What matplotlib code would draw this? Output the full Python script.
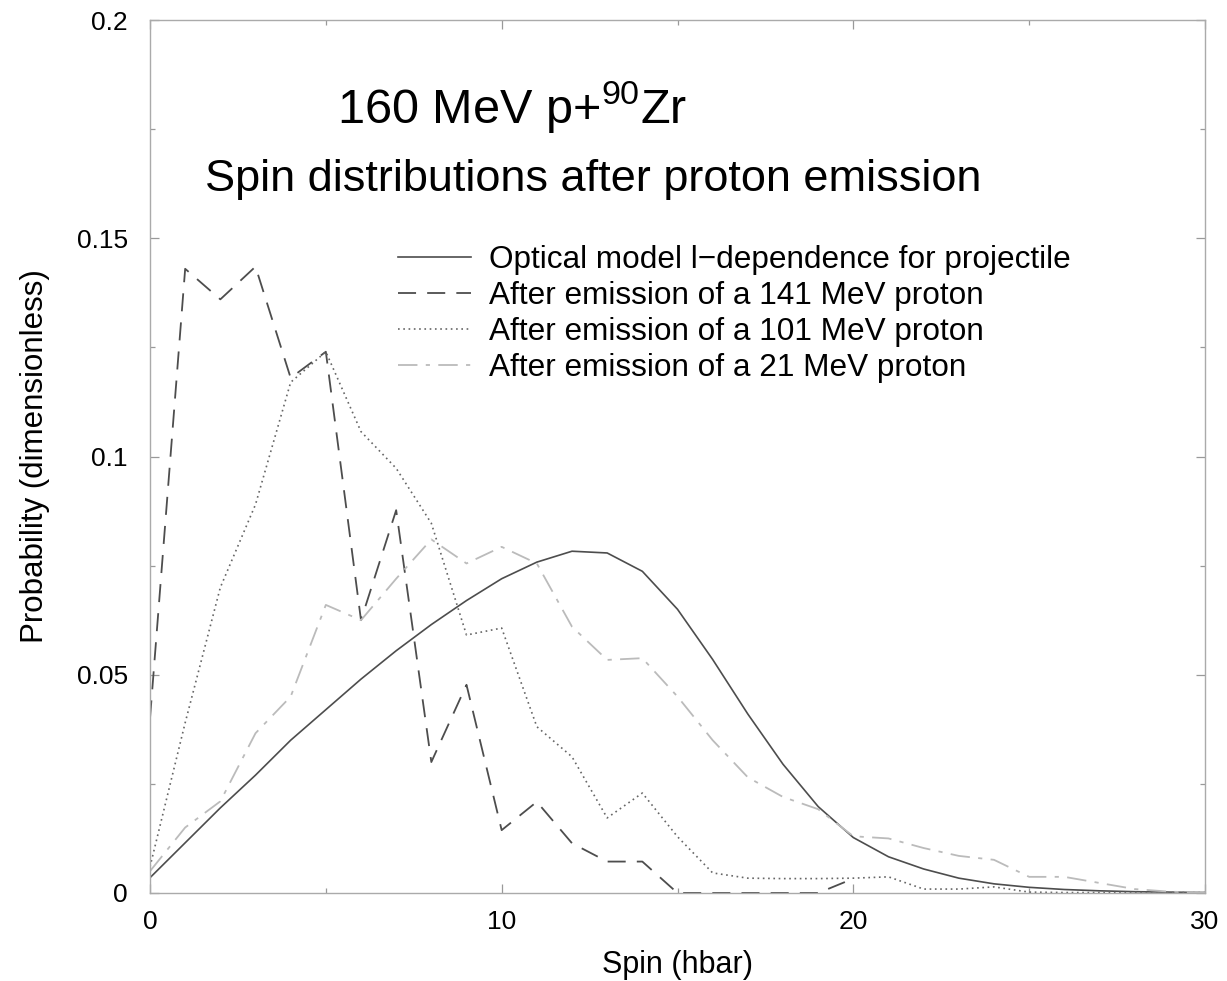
import matplotlib
matplotlib.use("Agg")
import matplotlib.pyplot as plt
import numpy as np

plt.rcParams['font.family'] = ['Liberation Sans', 'DejaVu Sans']
plt.rcParams['mathtext.fontset'] = 'custom'
plt.rcParams['mathtext.rm'] = 'Liberation Sans'
plt.rcParams['mathtext.it'] = 'Liberation Sans'
plt.rcParams['lines.scale_dashes'] = False

spin = list(range(0, 31))

optical = [0.0035, 0.0115, 0.0195, 0.027, 0.035, 0.042, 0.049, 0.0555, 0.0615, 0.067,
           0.072, 0.0758, 0.0783, 0.0779, 0.0737, 0.065, 0.0535, 0.041, 0.0295, 0.0198,
           0.0127, 0.0083, 0.0055, 0.0034, 0.0021, 0.0013, 0.0008, 0.0005, 0.0003, 0.0002,
           0.0001]

spin_141 = list(range(0, 21))
p141 = [0.040, 0.143, 0.136, 0.1435, 0.118, 0.124, 0.0625, 0.0877, 0.030, 0.0477,
        0.0144, 0.0209, 0.0114, 0.0072, 0.0072, 0.0, 0.0, 0.0, 0.0, 0.0,
        0.0033]

p101 = [0.006, 0.039, 0.070, 0.089, 0.117, 0.124, 0.1057, 0.0973, 0.0847, 0.0591,
        0.0607, 0.0381, 0.0312, 0.0172, 0.0229, 0.0129, 0.0046, 0.0034, 0.0033, 0.0033,
        0.0034, 0.0037, 0.0009, 0.0009, 0.0014, 0.0002, 0.0001, 0.0001, 0.0001, 0.0001,
        0.0001]

p21 = [0.005, 0.015, 0.021, 0.0366, 0.045, 0.066, 0.0625, 0.072, 0.081, 0.0755,
       0.0793, 0.0755, 0.061, 0.0534, 0.0538, 0.045, 0.035, 0.0265, 0.022, 0.0192,
       0.013, 0.0125, 0.0103, 0.0085, 0.0076, 0.0037, 0.0037, 0.0023, 0.0009, 0.0003,
       0.0001]

labels = ["Optical model l\u2212dependence for projectile",
          "After emission of a 141 MeV proton",
          "After emission of a 101 MeV proton",
          "After emission of a 21 MeV proton"]

W, H = 1227, 981
fig = plt.figure(figsize=(W / 100, H / 100), dpi=100)
ax = fig.add_axes([150 / W, 1 - 893 / H, (1205 - 150) / W, (893 - 20) / H])

ax.plot(spin, optical, color='#4d4d4d', lw=1.2, ls='-', label=labels[0])
ax.plot(spin_141, p141, color='#4d4d4d', lw=1.3, ls=(0, (13, 8)), label=labels[1])
ax.plot(spin, p101, color='#666666', lw=1.2, ls=(0, (1.2, 2.6)), label=labels[2])
ax.plot(spin, p21, color='#bbbbbb', lw=1.3, ls=(0, (14, 6, 3, 6)), label=labels[3])

ax.set_xlim(0, 30)
ax.set_ylim(0, 0.2)
ax.set_xticks([0, 10, 20, 30])
ax.set_xticks([5, 15, 25], minor=True)
ax.set_yticks([0, 0.05, 0.1, 0.15, 0.2])
ax.set_yticklabels(['0', '0.05', '0.1', '0.15', '0.2'])
ax.set_yticks([0.025, 0.075, 0.125, 0.175], minor=True)
ax.set_xticklabels(['0', '10', '20', '30'])

for s in ax.spines.values():
    s.set_color('#aaaaaa')
    s.set_linewidth(1.0)
ax.tick_params(which='both', direction='in', top=True, right=True, colors='#999999',
               labelcolor='black', labelsize=19)
ax.tick_params(which='major', length=6.5, width=0.9)
ax.tick_params(axis='x', which='major', pad=12)
ax.tick_params(axis='y', which='major', pad=16)
ax.tick_params(which='minor', length=3.5, width=0.9)

ax.set_xlabel("Spin (hbar)", fontsize=22, labelpad=12)
ax.set_ylabel("Probability (dimensionless)", fontsize=22.5, labelpad=19)

fig.text(337 / W, 1 - 123 / H, "160 MeV p+$^{\\mathrm{90}}$Zr", fontsize=35,
         ha='left', va='baseline')
fig.text(205 / W, 1 - 191 / H, "Spin distributions after proton emission", fontsize=32.5,
         ha='left', va='baseline')

leg = ax.legend(loc='upper left', bbox_to_anchor=((398 - 150) / (1205 - 150), 1 - (245 - 20) / (893 - 20)),
                frameon=False, fontsize=22.7, handlelength=2.3, handletextpad=0.6,
                labelspacing=0.19, borderaxespad=0, borderpad=0)

fig.savefig("out.png", dpi=100)
